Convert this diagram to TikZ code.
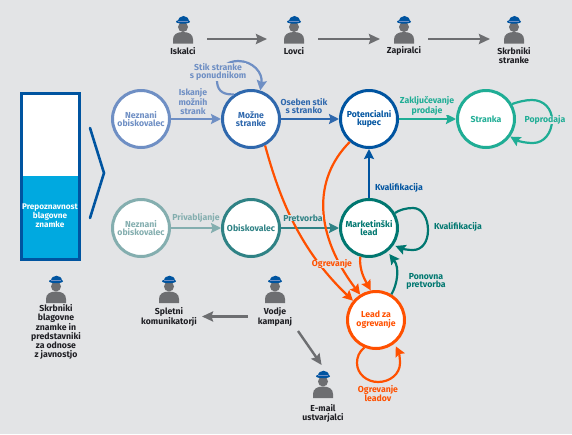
\documentclass[tikz,border=0pt]{standalone}
\usepackage{fontspec}
\setmainfont{Fira Sans}
\usetikzlibrary{arrows.meta,positioning}
\definecolor{pgback}{RGB}{227,228,230}
\definecolor{pgblue}{RGB}{0,84,160}
\definecolor{pgsky}{RGB}{0,169,224}
\definecolor{pgmid}{RGB}{47,104,173}
\definecolor{pglight}{RGB}{111,143,196}
\definecolor{pggreen}{RGB}{31,173,149}
\definecolor{pgteal}{RGB}{0,119,112}
\definecolor{pgsea}{RGB}{47,130,133}
\definecolor{pgpale}{RGB}{132,174,175}
\definecolor{pgorange}{RGB}{255,80,0}
\definecolor{pggray}{RGB}{109,110,113}
\definecolor{pgink}{RGB}{30,30,35}
\tikzset{
  stage/.style={draw=#1, text=#1, fill=white, circle, line width=3pt, minimum size=57pt,
                inner sep=0pt, align=center, font=\fontsize{8.7}{8.8}\selectfont\bfseries},
  tag/.style={text=#1, fill=pgback, align=center, inner sep=0pt, font=\fontsize{8.7}{8.8}\selectfont\bfseries},
  role/.style={text=pgink, align=center, inner sep=0pt, font=\fontsize{8.7}{8.8}\selectfont\bfseries},
  iconbox/.style={minimum width=#1, minimum height=4pt, inner sep=0pt, outer sep=0pt},
  flow/.style={-{Stealth[length=10pt,width=10pt,inset=1.5pt]}, line width=2.2pt, draw=#1},
  step arrow/.style={-{Stealth[length=11pt,width=10pt,inset=1.5pt]}, line width=2.4pt, draw=pggray},
  person/.pic={
    \fill[pggray] (-10,0) -- (-10,-4) .. controls (-10,-9) and (-6,-11.5) .. (0,-11.5)
      .. controls (6,-11.5) and (10,-9) .. (10,-4) -- (10,0) -- cycle;
    \fill[pggray] (0,-16.5) circle (5);
    \fill[pgblue] (-5.5,-22) .. controls (-5.5,-29.5) and (5.5,-29.5) .. (5.5,-22) -- cycle;
    \fill[pgblue] (0,-21.8) ellipse (7 and 2);
    \draw[pglight, line width=0.4pt] (-5,-22.6) -- (5,-22.6);
  },
}

\begin{document}
\begin{tikzpicture}[x=1pt, y=-1pt]
\useasboundingbox[fill=pgback] (0,0) rectangle (572,434);

% Brand awareness bar
\fill[white] (22,94) rectangle (79,176);
\fill[pgsky] (22,176) rectangle (79,259);
\draw[pgblue, line width=3pt] (21.5,93.5) rectangle (79.5,259.5);
\node[text=white, align=center, inner sep=0pt, font=\fontsize{8.2}{8.8}\selectfont\bfseries] (brand) at (50,216)
  {Prepoznavnost\\blagovne\\znamke};
\draw[pgblue, line width=2.6pt, line cap=round] (90,128) -- (104,173) -- (90,218);

% Stages
\node[stage=pglight] (unknowna) at (141,119) {Neznani\\obiskovalec};
\node[stage=pgmid] (prospect) at (251,119) {Možne\\stranke};
\node[stage=pgblue] (buyer) at (369,119) {Potencialni\\kupec};
\node[stage=pggreen] (customer) at (486,119) {Stranka};
\node[stage=pgpale] (unknownb) at (141,228) {Neznani\\obiskovalec};
\node[stage=pgsea] (visitor) at (251,228) {Obiskovalec};
\node[stage=pgteal] (mlead) at (369,228) {Marketinški\\lead};
\node[stage=pgorange] (warm) at (376,320) {Lead za\\ogrevanje};

% Connections
\draw[flow=pglight] (unknowna) -- (prospect);
\draw[flow=pgmid] (prospect) -- (buyer);
\draw[flow=pggreen] (buyer) -- (customer);
\draw[flow=pgpale] (unknownb) -- (visitor);
\draw[flow=pgsea] (visitor) -- (mlead);
\draw[flow=pgblue] (mlead) -- (buyer);
\draw[flow=pgorange] (prospect.-62) .. controls (280,200) and (300,250) .. (warm.140);
\draw[flow=pgorange] (buyer.-130) .. controls (312,180) and (315,235) .. (warm.122);
\draw[flow=pgorange] (mlead.-107) .. controls (359,270) and (365,280) .. (warm.100);
\draw[flow=pgteal, shorten >=3pt] (warm.59) .. controls (397,285) and (400,268) .. (mlead.-52);

% Loops
\draw[flow=pglight] (prospect.125) .. controls (220,95) and (217,88) .. (217,80)
  .. controls (217,69) and (227,61) .. (238,61) .. controls (253,61) and (263,73) .. (prospect.72);
\draw[flow=pggreen] (customer.30) .. controls (518,102) and (525,100) .. (532,100)
  .. controls (544,100) and (552,109) .. (552,120) .. controls (552,133) and (544,143) .. (533,143)
  .. controls (525,143) and (518,141) .. (customer.-36);
\draw[flow=pgteal, shorten >=2pt] (mlead.30) .. controls (399,210) and (406,208) .. (413,208)
  .. controls (422,208) and (428,218) .. (428,230) .. controls (428,242) and (422,250) .. (413,250)
  .. controls (408,250) and (403,249) .. (mlead.-35);
\draw[flow=pgorange, shorten >=3pt] (warm.-113) .. controls (359,352) and (357,357) .. (357,363)
  .. controls (357,374) and (367,382) .. (378,382) .. controls (390,382) and (400,374) .. (400,363)
  .. controls (400,358) and (399,353) .. (warm.-52);

% Labels
\node[tag=pglight] (searchtag) at (193,101.5) {Iskanje\\možnih\\strank};
\node[tag=pglight] (contacttag) at (218,72) {Stik stranke\\s ponudnikom};
\node[tag=pgmid] (personaltag) at (304,106) {Oseben stik\\s stranko};
\node[tag=pggreen] (closetag) at (427,106) {Zaključevanje\\prodaje};
\node[tag=pggreen] (aftertag) at (545,120) {Poprodaja};
\node[tag=pgblue] (qualtag) at (399,188) {Kvalifikacija};
\node[tag=pgpale] (attracttag) at (196,218) {Privabljanje};
\node[tag=pgsea] (converttag) at (303,218) {Pretvorba};
\node[tag=pgorange] (warmtag) at (332,264) {Ogrevanje};
\node[tag=pgteal] (qualbtag) at (458,227) {Kvalifikacija};
\node[tag=pgteal] (againtag) at (426,281.5) {Ponovna\\pretvorba};
\node[tag=pgorange] (leadstag) at (378,393.5) {Ogrevanje\\leadov};

% People
\foreach \px/\py in {183/43.5, 294/43.5, 404/43.5, 514/43.5, 56/303, 169/303, 275/303, 323/398}
  \pic at (\px,\py) {person};
\node[iconbox=48pt] (hunters) at (183,39) {};
\node[iconbox=48pt] (catchers) at (294,39) {};
\node[iconbox=48pt] (closers) at (404,39) {};
\node[iconbox=48pt] (keepers) at (514,39) {};
\node[iconbox=24pt] (writers) at (323,367) {};
\node[role] (hunterstxt) at (183,51) {Iskalci};
\node[role] (catcherstxt) at (294,51) {Lovci};
\node[role] (closerstxt) at (404,51) {Zapiralci};
\node[role] (keeperstxt) at (514,55.5) {Skrbniki\\stranke};
\node[role] (brandtxt) at (56,332) {Skrbniki\\blagovne\\znamke in\\predstavniki\\za odnose\\z javnostjo};
\node[role] (webtxt) at (169,316.5) {Spletni\\komunikatorji};
\node[role] (leadertxt) at (275,316.5) {Vodje\\kampanj};
\node[role] (writerstxt) at (323,413.5) {E-mail\\ustvarjalci};
\coordinate (leaderout) at (298,331);

\draw[step arrow, shorten >=3pt] (hunters) -- (catchers);
\draw[step arrow] (catchers) -- (closers);
\draw[step arrow] (closers) -- (keepers);
\draw[step arrow, shorten <=10pt, shorten >=5pt] (leadertxt) -- (webtxt);
\draw[step arrow] (leaderout) -- (writers);

\end{tikzpicture}
\end{document}
